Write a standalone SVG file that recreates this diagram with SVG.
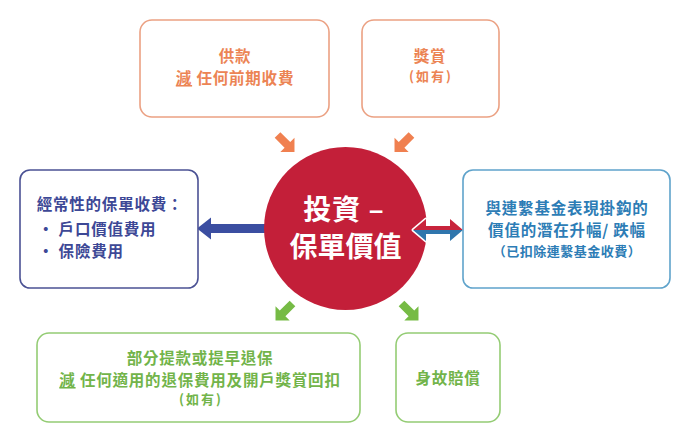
<svg xmlns="http://www.w3.org/2000/svg" width="692" height="441" viewBox="0 0 692 441">
<defs>
<style>
text{font-family:"Noto Sans CJK TC","Noto Sans CJK SC",sans-serif;font-weight:700;text-anchor:middle}
.box{fill:#fff;stroke-width:1.6}
.or{stroke:#eba183}
.ort{fill:#ec8454}
.bl{stroke:#4b5294}
.blt{fill:#3d4896}
.tl{stroke:#5fa3cb}
.tlt{fill:#2d7db6}
.gr{stroke:#94cc74}
.grt{fill:#72b44a}
.f16{font-size:15.5px;letter-spacing:0.8px}
.f13{font-size:13px;letter-spacing:2px}
.f14{font-size:13px;letter-spacing:0.5px}
.u{text-decoration:underline}
</style>
<polygon id="ar" points="-12,-4 2,-4 2,-10 12,0 2,10 2,4 -12,4"/>
</defs>
<rect width="692" height="441" fill="#fff"/>
<g id="connectors">
<use href="#ar" fill="#f08050" transform="translate(286,143.5) rotate(45)"/>
<use href="#ar" fill="#f08050" transform="translate(403,143.5) rotate(135)"/>
<use href="#ar" fill="#76bb45" transform="translate(284,312) rotate(135)"/>
<use href="#ar" fill="#76bb45" transform="translate(410,312) rotate(45)"/>
<polygon points="290,224 211,224 211,217.5 197,228.5 211,239.5 211,233 290,233" fill="#3b4ea1"/>
</g>
<g id="center">
<circle cx="345.5" cy="228.5" r="81.5" fill="#c31f39"/>
<text x="344" y="220" font-size="28" fill="#fff" letter-spacing="1">投資 –</text>
<text x="345.5" y="257" font-size="28" fill="#fff">保單價值</text>
</g>
<g id="double-arrow">
<polygon points="413,230 426,219 426,226 450,226 450,219 463,230 450,241 450,234 426,234 426,241" fill="none" stroke="#fff" stroke-width="3" stroke-linejoin="round"/>
<polygon points="413,230 426,219 426,226 450,226 450,219 463,230" fill="#c8243c"/>
<polygon points="413,230 426,241 426,234 450,234 450,241 463,230" fill="#2f76ad"/>
</g>
<g id="node-contribution">
<rect class="box or" x="140" y="20" width="189" height="97" rx="12"/>
<text class="ort f16" x="235" y="62">供款</text>
<text class="ort f16" x="235" y="84"><tspan class="u">減</tspan> 任何前期收費</text>
</g>
<g id="node-bonus">
<rect class="box or" x="362" y="20" width="137" height="97" rx="12"/>
<text class="ort f16" x="430" y="62">獎賞</text>
<text class="ort f13" x="431" y="81">(如有)</text>
</g>
<g id="node-charges">
<rect class="box bl" x="20" y="170" width="178" height="118" rx="10"/>
<text class="blt f16" x="110" y="210">經常性的保單收費：</text>
<text class="blt f16" x="38" y="235" style="text-anchor:start">•  戶口價值費用</text>
<text class="blt f16" x="38" y="257" style="text-anchor:start">•  保險費用</text>
</g>
<g id="node-fund">
<rect class="box tl" x="463" y="170" width="207" height="118" rx="10"/>
<text class="tlt f16" x="567" y="214">與連繫基金表現掛鈎的</text>
<text class="tlt f16" x="567" y="236">價值的潛在升幅/ 跌幅</text>
<text class="tlt f14" x="567" y="256">（已扣除連繫基金收費）</text>
</g>
<g id="node-withdrawal">
<rect class="box gr" x="37" y="333" width="323" height="89" rx="12"/>
<text class="grt f16" x="200" y="364">部分提款或提早退保</text>
<text class="grt f16" x="200" y="386"><tspan class="u">減</tspan> 任何適用的退保費用及開戶獎賞回扣</text>
<text class="grt f13" x="201" y="404">(如有)</text>
</g>
<g id="node-death">
<rect class="box gr" x="396" y="333" width="104" height="89" rx="12"/>
<text class="grt f16" x="448" y="384">身故賠償</text>
</g>
</svg>
